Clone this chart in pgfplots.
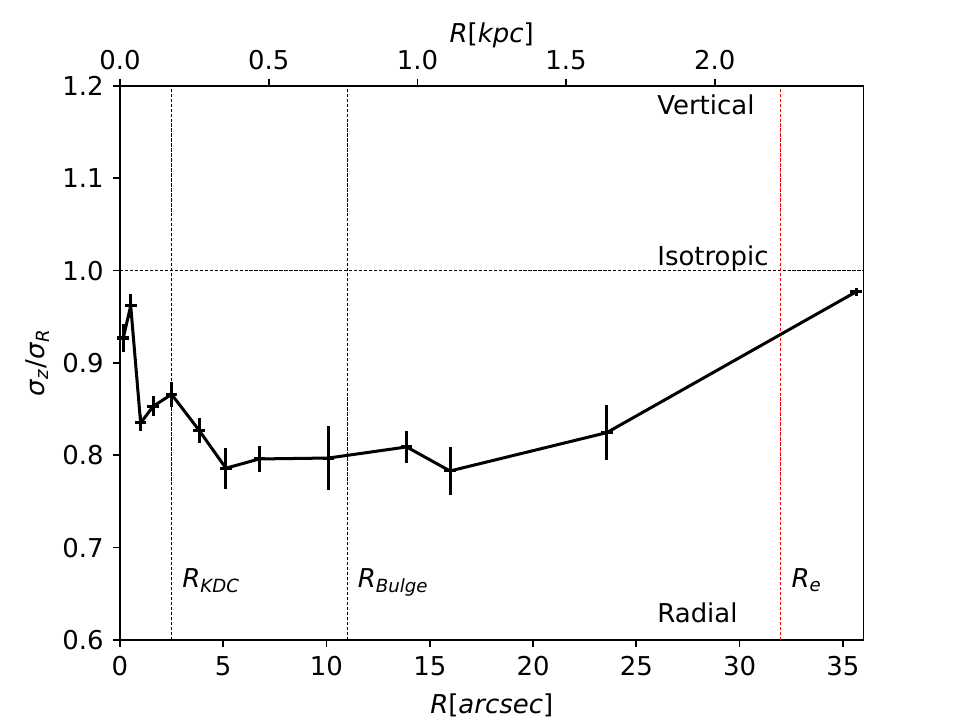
\documentclass[border=0pt]{standalone}
\usepackage{pgfplots}
\pgfplotsset{compat=1.18}
\usepackage{pgfplotstable}
\usepackage{fontspec}
\setmainfont{DejaVu Sans}
\pgfplotstableread{
x y ey
0.16 0.927 0.015
0.52 0.962 0.013
1.00 0.835 0.009
1.61 0.853 0.011
2.50 0.866 0.0135
3.83 0.827 0.0135
5.13 0.786 0.022
6.75 0.796 0.014
10.09 0.797 0.035
13.88 0.809 0.017
15.98 0.783 0.026
23.57 0.8245 0.030
35.64 0.977 0.004
}\sigmadata
\newcommand{\fs}{\fontsize{12.5}{15}\selectfont}
\begin{document}
\fs
\begin{tikzpicture}
\path[use as bounding box] (-57.8pt,-38.5pt) rectangle (404.7pt,308.3pt);
\pgfplotsset{every axis/.append style={
  scale only axis, width=358.2pt, height=266.9pt,
  at={(0pt,0pt)}, anchor=south west,
  tick align=outside, major tick length=3.5pt,
  every tick/.style={black, line width=0.8pt},
  axis line style={line width=0.8pt},
  tick label style={font=\fs},
  label style={font=\fs},
  /pgf/number format/assume math mode=true,
}}
\begin{axis}[
  xmin=0, xmax=36, ymin=0.6, ymax=1.2,
  xtick={0,5,10,15,20,25,30,35},
  ytick={0.6,0.7,0.8,0.9,1.0,1.1,1.2},
  yticklabel style={/pgf/number format/.cd, fixed, fixed zerofill, precision=1},
  xtick pos=bottom, ytick pos=left,
  xlabel={\textit{R}[\textit{arcsec}]},
  ylabel={\textit{σ}\textsubscript{\textit{z}}/\textit{σ}\textsubscript{\textit{R}}},
  ylabel style={yshift=-2.4pt},
  clip=false,
]
\addplot[black, line width=0.5pt, dash pattern=on 1.6pt off 0.8pt, forget plot] coordinates {(0,1.0) (36,1.0)};
\addplot[black, line width=0.5pt, dash pattern=on 1.6pt off 0.8pt, forget plot] coordinates {(2.5,0.6) (2.5,1.2)};
\addplot[black, line width=0.5pt, dash pattern=on 1.6pt off 0.8pt, forget plot] coordinates {(11,0.6) (11,1.2)};
\addplot[red, line width=0.5pt, dash pattern=on 1.6pt off 0.8pt, forget plot] coordinates {(32,0.6) (32,1.2)};
\addplot[black, line width=1.45pt, mark=-, mark size=2.8pt,
  mark options={line width=1.45pt},
  error bars/.cd, y dir=both, y explicit, error mark=none,
  error bar style={line width=1.45pt, black}]
  table[x=x, y=y, y error=ey] {\sigmadata};
\node[anchor=base west, font=\fs, inner sep=0pt] at (axis cs:26,1.169) {Vertical};
\node[anchor=base west, font=\fs, inner sep=0pt] at (axis cs:26,1.005) {Isotropic};
\node[anchor=base west, font=\fs, inner sep=0pt] at (axis cs:26,0.619) {Radial};
\node[anchor=base west, font=\fs, inner sep=0pt] at (axis cs:3,0.657) {\textit{R}\textsubscript{\textit{KDC}}};
\node[anchor=base west, font=\fs, inner sep=0pt] at (axis cs:11.5,0.657) {\textit{R}\textsubscript{\textit{Bulge}}};
\node[anchor=base west, font=\fs, inner sep=0pt] at (axis cs:32.5,0.657) {\textit{R}\textsubscript{\textit{e}}};
\end{axis}
\begin{axis}[
  xmin=0, xmax=2.5, ymin=0.6, ymax=1.2,
  axis x line*=top, hide y axis,
  xtick={0,0.5,1,1.5,2},
  xticklabel style={/pgf/number format/.cd, fixed, fixed zerofill, precision=1},
  xlabel={\textit{R}[\textit{kpc}]},
  xlabel style={yshift=-7.5pt},
]
\addplot[draw=none, forget plot] coordinates {(0,0.6)};
\end{axis}
\end{tikzpicture}
\end{document}
